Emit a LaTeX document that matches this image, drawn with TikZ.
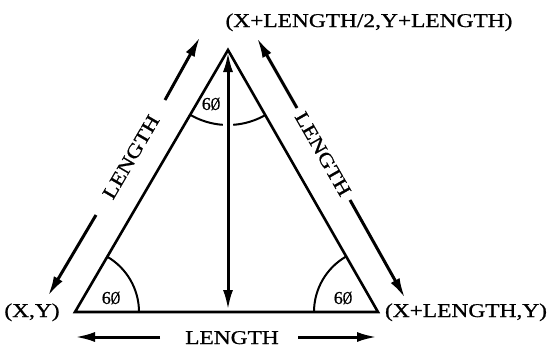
\documentclass[tikz,border=0pt]{standalone}
\usepackage{fontspec}
\setmainfont{Liberation Serif}
\newfontfamily\heavy{Liberation Serif}[FakeBold=0.8]
\usepackage{graphicx}
\usetikzlibrary{arrows.meta,calc}
\newcommand\widetxt[1]{\scalebox{1.2}[1]{#1}}
\newcommand\slzero{\scalebox{0.72}[1]{Ø}}
\begin{document}
\begin{tikzpicture}[x=1pt,y=-1pt,
  edge/.style={line width=2.6pt, line join=miter, line cap=butt},
  tipx/.tip={Latex[length=20pt,width=10pt]},
  dim/.style={line width=3pt, -tipx},
  both/.style={line width=3pt, tipx-tipx},
  arcst/.style={line width=2pt},
  lbl/.style={font=\heavy\fontsize{19.5}{22}\selectfont, inner sep=0pt},
  ang/.style={font=\heavy\fontsize{18}{20}\selectfont, inner sep=0pt}]
\useasboundingbox (0,0) rectangle (552,346);

% vertices
\coordinate (A) at (75,312);
\coordinate (B) at (378,312);
\coordinate (C) at (228,50);
\coordinate (M) at (228,312);

% triangle
\draw[edge] (A) -- (C) -- (B) -- cycle;

% vertical height with arrows
\draw[both] (M) ++(0,-2) coordinate (Mb) -- ($(C)+(0,2)$) coordinate (Ct);

% angle arcs
\draw[arcst] (A) ++(0:64) arc[start angle=0, end angle=-59.7, radius=64];
\draw[arcst] (B) ++(180:64) arc[start angle=180, end angle=239.8, radius=64];
\draw[arcst] (C) ++(60.2:75) arc[start angle=60.2, end angle=86, radius=75];
\draw[arcst] (C) ++(94:75) arc[start angle=94, end angle=120.3, radius=75];

% left side dimension arrows
\coordinate (L0) at (48,296);
\coordinate (L1) at (96,215);
\coordinate (L2) at (165,100);
\coordinate (L3) at (200,37);
\draw[dim] (L1) -- (L0);
\draw[dim] (L2) -- (L3);
\node[lbl, rotate=59.7] (lenL) at (131,157) {\widetxt{LENGTH}};

% right side dimension arrows
\coordinate (R0) at (405,298);
\coordinate (R1) at (350,200);
\coordinate (R2) at (297,108);
\coordinate (R3) at (257,38);
\draw[dim] (R1) -- (R0);
\draw[dim] (R2) -- (R3);
\node[lbl, rotate=-60.2] (lenR) at (323,154) {\widetxt{LENGTH}};

% bottom dimension arrows
\coordinate (B0) at (75,337);
\coordinate (B1) at (160,337);
\coordinate (B2) at (298,337);
\coordinate (B3) at (377,337);
\draw[dim] (B1) -- (B0);
\draw[dim] (B2) -- (B3);
\node[lbl, anchor=base] (lenB) at (232,344) {\widetxt{LENGTH}};

% vertex labels
\node[lbl, anchor=base] (pA) at (32,317) {\widetxt{(X,Y)}};
\node[lbl, anchor=base] (pB) at (466,317) {\widetxt{(X+LENGTH,Y)}};
\node[lbl, anchor=base] (pC) at (369,27) {\widetxt{(X+LENGTH/2,Y+LENGTH)}};

% angle labels
\node[ang] (aA) at (111,298) {6\slzero};
\node[ang] (aB) at (343,298) {6\slzero};
\node[ang] (aC) at (211,104) {6\slzero};
\end{tikzpicture}
\end{document}
